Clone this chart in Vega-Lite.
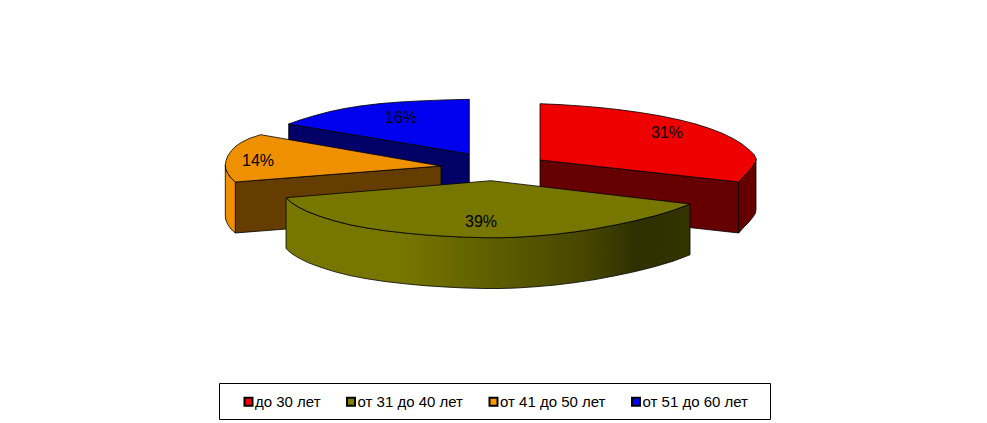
{
  "$schema": "https://vega.github.io/schema/vega-lite/v6.json",
  "width": 987,
  "height": 423,
  "autosize": {"type": "none"},
  "padding": 0,
  "background": "white",
  "view": {"stroke": null},
  "datasets": {
    "outlines": [
      {"shape": "blue_cut", "seq": 1, "x": 288.7, "y": 124},
      {"shape": "blue_cut", "seq": 2, "x": 469.3, "y": 154},
      {"shape": "blue_cut", "seq": 3, "x": 469.3, "y": 205},
      {"shape": "blue_cut", "seq": 4, "x": 288.7, "y": 175},
      {"shape": "blue_cut", "seq": 5, "x": 288.7, "y": 124},
      {"shape": "blue_top", "seq": 1, "x": 288.7, "y": 124},
      {"shape": "blue_top", "seq": 2, "x": 300, "y": 120},
      {"shape": "blue_top", "seq": 3, "x": 315, "y": 115.5},
      {"shape": "blue_top", "seq": 4, "x": 330, "y": 111.5},
      {"shape": "blue_top", "seq": 5, "x": 345, "y": 108.4},
      {"shape": "blue_top", "seq": 6, "x": 360, "y": 106},
      {"shape": "blue_top", "seq": 7, "x": 380, "y": 103.6},
      {"shape": "blue_top", "seq": 8, "x": 400, "y": 102},
      {"shape": "blue_top", "seq": 9, "x": 420, "y": 100.9},
      {"shape": "blue_top", "seq": 10, "x": 445, "y": 99.9},
      {"shape": "blue_top", "seq": 11, "x": 469.3, "y": 99.3},
      {"shape": "blue_top", "seq": 12, "x": 469.3, "y": 154},
      {"shape": "blue_top", "seq": 13, "x": 288.7, "y": 124},
      {"shape": "orange_cut", "seq": 1, "x": 235.3, "y": 182},
      {"shape": "orange_cut", "seq": 2, "x": 441, "y": 166},
      {"shape": "orange_cut", "seq": 3, "x": 441, "y": 217},
      {"shape": "orange_cut", "seq": 4, "x": 235.3, "y": 233},
      {"shape": "orange_cut", "seq": 5, "x": 235.3, "y": 182},
      {"shape": "orange_side", "seq": 1, "x": 225.3, "y": 165},
      {"shape": "orange_side", "seq": 2, "x": 225.8, "y": 169},
      {"shape": "orange_side", "seq": 3, "x": 227.8, "y": 173.5},
      {"shape": "orange_side", "seq": 4, "x": 231, "y": 178},
      {"shape": "orange_side", "seq": 5, "x": 235.3, "y": 182},
      {"shape": "orange_side", "seq": 6, "x": 235.3, "y": 233},
      {"shape": "orange_side", "seq": 7, "x": 231, "y": 229},
      {"shape": "orange_side", "seq": 8, "x": 227.8, "y": 224.5},
      {"shape": "orange_side", "seq": 9, "x": 225.8, "y": 220},
      {"shape": "orange_side", "seq": 10, "x": 225.3, "y": 216},
      {"shape": "orange_side", "seq": 11, "x": 225.3, "y": 165},
      {"shape": "orange_top", "seq": 1, "x": 441, "y": 166},
      {"shape": "orange_top", "seq": 2, "x": 235.3, "y": 182},
      {"shape": "orange_top", "seq": 3, "x": 231, "y": 178},
      {"shape": "orange_top", "seq": 4, "x": 227.8, "y": 173.5},
      {"shape": "orange_top", "seq": 5, "x": 225.8, "y": 169},
      {"shape": "orange_top", "seq": 6, "x": 225.3, "y": 165},
      {"shape": "orange_top", "seq": 7, "x": 226, "y": 160.5},
      {"shape": "orange_top", "seq": 8, "x": 228, "y": 155.5},
      {"shape": "orange_top", "seq": 9, "x": 231.5, "y": 150.5},
      {"shape": "orange_top", "seq": 10, "x": 236, "y": 146},
      {"shape": "orange_top", "seq": 11, "x": 242, "y": 142},
      {"shape": "orange_top", "seq": 12, "x": 250, "y": 138.2},
      {"shape": "orange_top", "seq": 13, "x": 260.7, "y": 134.7},
      {"shape": "orange_top", "seq": 14, "x": 441, "y": 166},
      {"shape": "red_cut", "seq": 1, "x": 540, "y": 160},
      {"shape": "red_cut", "seq": 2, "x": 738.7, "y": 182},
      {"shape": "red_cut", "seq": 3, "x": 738.7, "y": 233},
      {"shape": "red_cut", "seq": 4, "x": 540, "y": 211},
      {"shape": "red_cut", "seq": 5, "x": 540, "y": 160},
      {"shape": "red_side", "seq": 1, "x": 738.7, "y": 182},
      {"shape": "red_side", "seq": 2, "x": 744, "y": 176},
      {"shape": "red_side", "seq": 3, "x": 749, "y": 171},
      {"shape": "red_side", "seq": 4, "x": 753, "y": 166},
      {"shape": "red_side", "seq": 5, "x": 755.5, "y": 162},
      {"shape": "red_side", "seq": 6, "x": 756, "y": 158.5},
      {"shape": "red_side", "seq": 7, "x": 756, "y": 209.5},
      {"shape": "red_side", "seq": 8, "x": 755.5, "y": 213},
      {"shape": "red_side", "seq": 9, "x": 753, "y": 217},
      {"shape": "red_side", "seq": 10, "x": 749, "y": 222},
      {"shape": "red_side", "seq": 11, "x": 744, "y": 227},
      {"shape": "red_side", "seq": 12, "x": 738.7, "y": 233},
      {"shape": "red_side", "seq": 13, "x": 738.7, "y": 182},
      {"shape": "red_top", "seq": 1, "x": 540, "y": 103.7},
      {"shape": "red_top", "seq": 2, "x": 560, "y": 104.6},
      {"shape": "red_top", "seq": 3, "x": 580, "y": 105.9},
      {"shape": "red_top", "seq": 4, "x": 600, "y": 107.6},
      {"shape": "red_top", "seq": 5, "x": 620, "y": 109.8},
      {"shape": "red_top", "seq": 6, "x": 640, "y": 112.5},
      {"shape": "red_top", "seq": 7, "x": 660, "y": 115.8},
      {"shape": "red_top", "seq": 8, "x": 680, "y": 120},
      {"shape": "red_top", "seq": 9, "x": 695, "y": 123.8},
      {"shape": "red_top", "seq": 10, "x": 710, "y": 128.6},
      {"shape": "red_top", "seq": 11, "x": 722, "y": 133.2},
      {"shape": "red_top", "seq": 12, "x": 733, "y": 138.5},
      {"shape": "red_top", "seq": 13, "x": 742, "y": 144},
      {"shape": "red_top", "seq": 14, "x": 750, "y": 150.5},
      {"shape": "red_top", "seq": 15, "x": 754, "y": 154.5},
      {"shape": "red_top", "seq": 16, "x": 756, "y": 158.5},
      {"shape": "red_top", "seq": 17, "x": 755.5, "y": 162},
      {"shape": "red_top", "seq": 18, "x": 753, "y": 166},
      {"shape": "red_top", "seq": 19, "x": 749, "y": 171},
      {"shape": "red_top", "seq": 20, "x": 744, "y": 176},
      {"shape": "red_top", "seq": 21, "x": 738.7, "y": 182},
      {"shape": "red_top", "seq": 22, "x": 540, "y": 160},
      {"shape": "red_top", "seq": 23, "x": 540, "y": 103.7},
      {"shape": "olive_side", "seq": 1, "x": 286, "y": 197.7},
      {"shape": "olive_side", "seq": 2, "x": 291, "y": 202.3},
      {"shape": "olive_side", "seq": 3, "x": 298, "y": 206.8},
      {"shape": "olive_side", "seq": 4, "x": 308, "y": 211.8},
      {"shape": "olive_side", "seq": 5, "x": 320, "y": 216.3},
      {"shape": "olive_side", "seq": 6, "x": 335, "y": 221},
      {"shape": "olive_side", "seq": 7, "x": 350, "y": 224.8},
      {"shape": "olive_side", "seq": 8, "x": 367, "y": 228},
      {"shape": "olive_side", "seq": 9, "x": 385, "y": 230.7},
      {"shape": "olive_side", "seq": 10, "x": 405, "y": 233},
      {"shape": "olive_side", "seq": 11, "x": 425, "y": 234.9},
      {"shape": "olive_side", "seq": 12, "x": 445, "y": 236.2},
      {"shape": "olive_side", "seq": 13, "x": 465, "y": 237.2},
      {"shape": "olive_side", "seq": 14, "x": 485, "y": 237.7},
      {"shape": "olive_side", "seq": 15, "x": 500, "y": 237.7},
      {"shape": "olive_side", "seq": 16, "x": 515, "y": 237.3},
      {"shape": "olive_side", "seq": 17, "x": 535, "y": 236},
      {"shape": "olive_side", "seq": 18, "x": 555, "y": 234.3},
      {"shape": "olive_side", "seq": 19, "x": 575, "y": 231.8},
      {"shape": "olive_side", "seq": 20, "x": 595, "y": 228.8},
      {"shape": "olive_side", "seq": 21, "x": 615, "y": 225},
      {"shape": "olive_side", "seq": 22, "x": 635, "y": 220.8},
      {"shape": "olive_side", "seq": 23, "x": 655, "y": 215.8},
      {"shape": "olive_side", "seq": 24, "x": 673, "y": 210.4},
      {"shape": "olive_side", "seq": 25, "x": 690, "y": 204},
      {"shape": "olive_side", "seq": 26, "x": 690, "y": 254.8},
      {"shape": "olive_side", "seq": 27, "x": 673, "y": 261.2},
      {"shape": "olive_side", "seq": 28, "x": 655, "y": 266.6},
      {"shape": "olive_side", "seq": 29, "x": 635, "y": 271.6},
      {"shape": "olive_side", "seq": 30, "x": 615, "y": 275.8},
      {"shape": "olive_side", "seq": 31, "x": 595, "y": 279.6},
      {"shape": "olive_side", "seq": 32, "x": 575, "y": 282.6},
      {"shape": "olive_side", "seq": 33, "x": 555, "y": 285.1},
      {"shape": "olive_side", "seq": 34, "x": 535, "y": 286.8},
      {"shape": "olive_side", "seq": 35, "x": 515, "y": 288.1},
      {"shape": "olive_side", "seq": 36, "x": 500, "y": 288.5},
      {"shape": "olive_side", "seq": 37, "x": 485, "y": 288.5},
      {"shape": "olive_side", "seq": 38, "x": 465, "y": 288},
      {"shape": "olive_side", "seq": 39, "x": 445, "y": 287},
      {"shape": "olive_side", "seq": 40, "x": 425, "y": 285.7},
      {"shape": "olive_side", "seq": 41, "x": 405, "y": 283.8},
      {"shape": "olive_side", "seq": 42, "x": 385, "y": 281.5},
      {"shape": "olive_side", "seq": 43, "x": 367, "y": 278.8},
      {"shape": "olive_side", "seq": 44, "x": 350, "y": 275.6},
      {"shape": "olive_side", "seq": 45, "x": 335, "y": 271.8},
      {"shape": "olive_side", "seq": 46, "x": 320, "y": 267.1},
      {"shape": "olive_side", "seq": 47, "x": 308, "y": 262.6},
      {"shape": "olive_side", "seq": 48, "x": 298, "y": 257.6},
      {"shape": "olive_side", "seq": 49, "x": 291, "y": 253.1},
      {"shape": "olive_side", "seq": 50, "x": 286, "y": 248.5},
      {"shape": "olive_side", "seq": 51, "x": 286, "y": 197.7},
      {"shape": "olive_top", "seq": 1, "x": 286, "y": 197.7},
      {"shape": "olive_top", "seq": 2, "x": 291, "y": 202.3},
      {"shape": "olive_top", "seq": 3, "x": 298, "y": 206.8},
      {"shape": "olive_top", "seq": 4, "x": 308, "y": 211.8},
      {"shape": "olive_top", "seq": 5, "x": 320, "y": 216.3},
      {"shape": "olive_top", "seq": 6, "x": 335, "y": 221},
      {"shape": "olive_top", "seq": 7, "x": 350, "y": 224.8},
      {"shape": "olive_top", "seq": 8, "x": 367, "y": 228},
      {"shape": "olive_top", "seq": 9, "x": 385, "y": 230.7},
      {"shape": "olive_top", "seq": 10, "x": 405, "y": 233},
      {"shape": "olive_top", "seq": 11, "x": 425, "y": 234.9},
      {"shape": "olive_top", "seq": 12, "x": 445, "y": 236.2},
      {"shape": "olive_top", "seq": 13, "x": 465, "y": 237.2},
      {"shape": "olive_top", "seq": 14, "x": 485, "y": 237.7},
      {"shape": "olive_top", "seq": 15, "x": 500, "y": 237.7},
      {"shape": "olive_top", "seq": 16, "x": 515, "y": 237.3},
      {"shape": "olive_top", "seq": 17, "x": 535, "y": 236},
      {"shape": "olive_top", "seq": 18, "x": 555, "y": 234.3},
      {"shape": "olive_top", "seq": 19, "x": 575, "y": 231.8},
      {"shape": "olive_top", "seq": 20, "x": 595, "y": 228.8},
      {"shape": "olive_top", "seq": 21, "x": 615, "y": 225},
      {"shape": "olive_top", "seq": 22, "x": 635, "y": 220.8},
      {"shape": "olive_top", "seq": 23, "x": 655, "y": 215.8},
      {"shape": "olive_top", "seq": 24, "x": 673, "y": 210.4},
      {"shape": "olive_top", "seq": 25, "x": 690, "y": 204},
      {"shape": "olive_top", "seq": 26, "x": 491, "y": 180.7},
      {"shape": "olive_top", "seq": 27, "x": 286, "y": 197.7}
    ],
    "slices": [
      {"part": "до 30 лет", "share": 0.31, "x": 667, "y": 133},
      {"part": "от 31 до 40 лет", "share": 0.39, "x": 481, "y": 222},
      {"part": "от 41 до 50 лет", "share": 0.14, "x": 258, "y": 161},
      {"part": "от 51 до 60 лет", "share": 0.16, "x": 401, "y": 118}
    ],
    "frame": [{"x": 219.5, "x2": 770.5, "y": 383.5, "y2": 419.5}]
  },
  "layer": [
    {
      "data": {"name": "outlines"},
      "transform": [{"filter": "datum.shape != 'olive_side' && datum.shape != 'olive_top'"}],
      "mark": {"type": "line", "stroke": "#000000", "strokeWidth": 0.8},
      "encoding": {
        "x": {"field": "x", "type": "quantitative", "scale": {"domain": [0, 987], "nice": false}, "axis": null},
        "y": {"field": "y", "type": "quantitative", "scale": {"domain": [423, 0], "nice": false}, "axis": null},
        "order": {"field": "seq"},
        "fill": {
          "field": "shape",
          "type": "nominal",
          "legend": null,
          "scale": {
            "domain": ["blue_cut", "blue_top", "orange_cut", "orange_side", "orange_top", "red_cut", "red_side", "red_top"],
            "range": ["#000066", "#0000EE", "#663D00", "#EE9000", "#EE9000", "#660000", "#660000", "#EE0000"]
          }
        }
      }
    },
    {
      "data": {"name": "outlines"},
      "transform": [{"filter": "datum.shape == 'olive_side'"}],
      "mark": {
        "type": "line",
        "stroke": "#000000",
        "strokeWidth": 0.8,
        "fill": {
          "gradient": "linear",
          "x1": 0,
          "x2": 1,
          "y1": 0,
          "y2": 0,
          "stops": [
            {"offset": 0, "color": "#777700"},
            {"offset": 0.28, "color": "#777700"},
            {"offset": 0.53, "color": "#5C5C00"},
            {"offset": 0.75, "color": "#454500"},
            {"offset": 0.87, "color": "#2F2F00"},
            {"offset": 1, "color": "#343400"}
          ]
        }
      },
      "encoding": {
        "x": {"field": "x", "type": "quantitative", "axis": null},
        "y": {"field": "y", "type": "quantitative", "axis": null},
        "order": {"field": "seq"}
      }
    },
    {
      "data": {"name": "outlines"},
      "transform": [{"filter": "datum.shape == 'olive_top'"}],
      "mark": {"type": "line", "stroke": "#000000", "strokeWidth": 0.8, "fill": "#777700"},
      "encoding": {
        "x": {"field": "x", "type": "quantitative", "axis": null},
        "y": {"field": "y", "type": "quantitative", "axis": null},
        "order": {"field": "seq"}
      }
    },
    {
      "data": {"name": "frame"},
      "mark": {"type": "rect", "filled": false, "stroke": "#000000", "strokeWidth": 1},
      "encoding": {
        "x": {"field": "x", "type": "quantitative", "axis": null},
        "x2": {"field": "x2"},
        "y": {"field": "y", "type": "quantitative", "axis": null},
        "y2": {"field": "y2"}
      }
    },
    {
      "data": {"name": "slices"},
      "mark": {"type": "point", "filled": true, "size": 0, "opacity": 1},
      "encoding": {
        "x": {"field": "x", "type": "quantitative", "axis": null},
        "y": {"field": "y", "type": "quantitative", "axis": null},
        "color": {
          "field": "part",
          "type": "nominal",
          "scale": {
            "domain": ["до 30 лет", "от 31 до 40 лет", "от 41 до 50 лет", "от 51 до 60 лет"],
            "range": ["#FF0000", "#808000", "#FF9900", "#0000FF"]
          },
          "legend": {
            "title": null,
            "orient": "none",
            "legendX": 241,
            "legendY": 394,
            "direction": "horizontal",
            "columns": 4,
            "columnPadding": 21.5,
            "padding": 0,
            "symbolType": "square",
            "symbolSize": 64,
            "symbolOpacity": 1,
            "symbolStrokeColor": "#000000",
            "symbolStrokeWidth": 2,
            "labelFont": "Liberation Sans",
            "labelFontSize": 15,
            "labelColor": "#000000",
            "labelOffset": -1
          }
        }
      }
    },
    {
      "data": {"name": "slices"},
      "mark": {"type": "text", "font": "Liberation Sans", "fontSize": 16, "color": "#000000"},
      "encoding": {
        "x": {"field": "x", "type": "quantitative", "axis": null},
        "y": {"field": "y", "type": "quantitative", "axis": null},
        "text": {"field": "share", "type": "quantitative", "format": ".0%"}
      }
    }
  ]
}
